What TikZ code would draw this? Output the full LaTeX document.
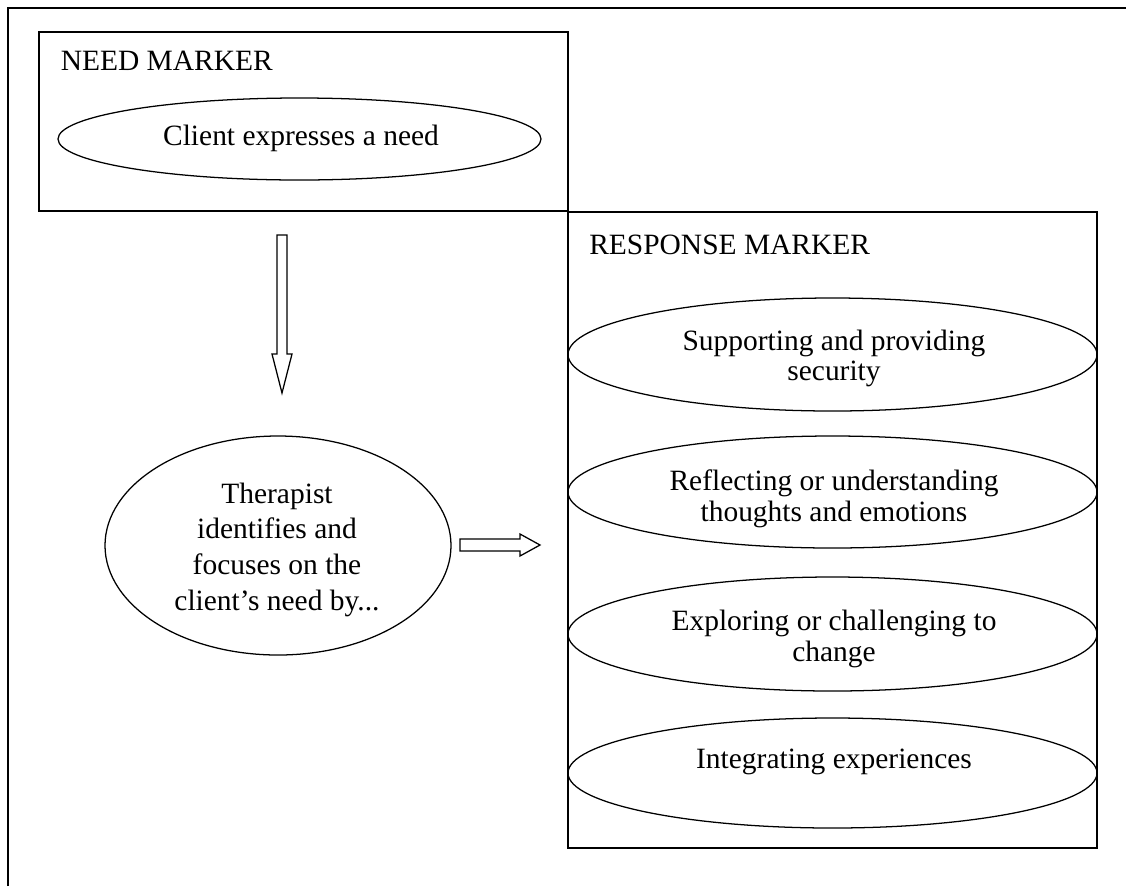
\documentclass[tikz,border=0pt]{standalone}
\usepackage{fontspec}
\setmainfont{Liberation Serif}
\usetikzlibrary{shapes.geometric}
\begin{document}
\begin{tikzpicture}[x=0.75pt,y=-0.75pt,
  frame/.style={line width=1.7pt},
  box/.style={draw, rectangle, line width=1pt, inner sep=0pt},
  ell/.style={draw, ellipse, line width=0.95pt, inner sep=0pt},
  txt/.style={inner sep=0pt, align=center, font=\fontsize{22.1pt}{23pt}\selectfont},
  wide/.style={font=\fontsize{22.1pt}{26.8pt}\selectfont},
  lbl/.style={inner sep=0pt, anchor=base west, font=\fontsize{22.1pt}{23pt}\selectfont},
  blockarrow/.style={draw, line width=0.95pt, fill=white, line join=miter}]
\useasboundingbox (0,0) rectangle (1126,886);
% outer frame
\draw[frame] (7.7,886) -- (7.7,7.7) -- (1126,7.7);
% boxes
\node[box, minimum width=529*0.75pt, minimum height=179*0.75pt] (need) at (303.5,121.5) {};
\node[box, minimum width=529*0.75pt, minimum height=636*0.75pt] (resp) at (832.5,530) {};
\node[lbl] (needlbl) at (60.5,70) {NEED MARKER};
\node[lbl] (resplbl) at (589,254) {RESPONSE MARKER};
% ellipses
\node[ell, minimum width=483*0.75pt, minimum height=82*0.75pt] (client) at (299.5,139) {};
\node[ell, minimum width=346*0.75pt, minimum height=219*0.75pt] (ther) at (278,545.5) {};
\node[ell, minimum width=529*0.75pt, minimum height=113*0.75pt] (e1) at (832.5,354.5) {};
\node[ell, minimum width=529*0.75pt, minimum height=112*0.75pt] (e2) at (832.5,492) {};
\node[ell, minimum width=529*0.75pt, minimum height=114*0.75pt] (e3) at (832.5,634) {};
\node[ell, minimum width=529*0.75pt, minimum height=110*0.75pt] (e4) at (832.5,773) {};
% texts
\node[txt] (tclient) at (301,138.3) {Client expresses a need};
\node[txt, wide] (tther) at (277,549.7) {Therapist\\identifies and\\focuses on the\\client’s need by...};
\node[txt] (t1) at (834,358.3) {Supporting and providing\\security};
\node[txt] (t2) at (834,499) {Reflecting or understanding\\thoughts and emotions};
\node[txt] (t3) at (834,639) {Exploring or challenging to\\change};
\node[txt] (t4) at (834,762) {Integrating experiences};
% block arrows
\draw[blockarrow] (277,235) -- (287,235) -- (287,354) -- (292,354) -- (282,393) -- (272,354) -- (277,354) -- cycle;
\draw[blockarrow] (460,539) -- (520,539) -- (520,534) -- (540,545) -- (520,556) -- (520,551) -- (460,551) -- cycle;
\end{tikzpicture}
\end{document}
